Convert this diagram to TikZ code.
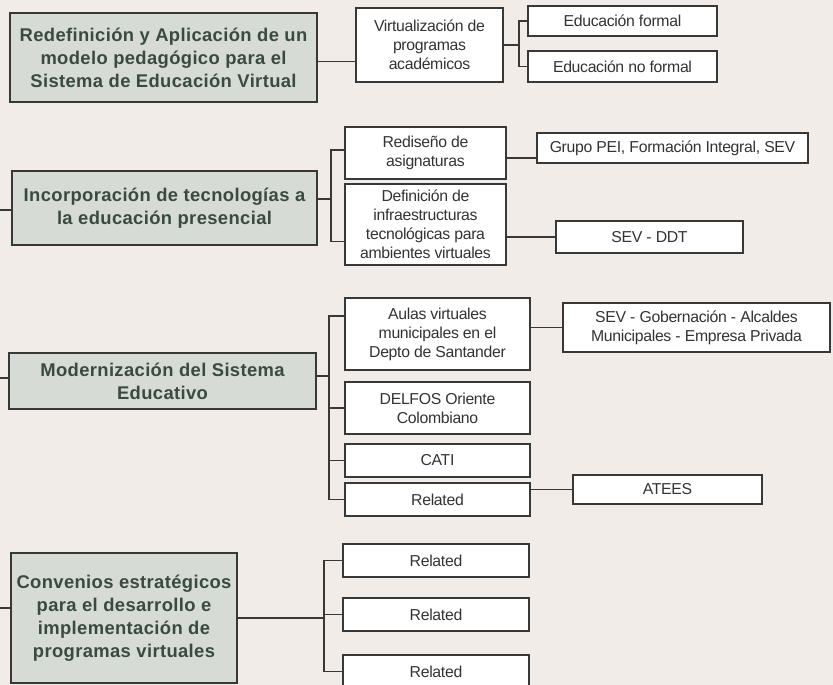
\documentclass[tikz,border=0pt]{standalone}
\usepackage{fontspec}
\setmainfont{Liberation Sans}
\usepackage{tikz}

\definecolor{paper}{HTML}{F1ECE8}
\definecolor{boxgray}{HTML}{D6DBD5}
\definecolor{heading}{HTML}{3B4A40}
\definecolor{rule}{HTML}{383838}

\begin{document}
\begin{tikzpicture}[x=1pt, y=-1pt,
  mainbox/.style={draw=rule, line width=2.3pt, fill=boxgray, text=heading,
    font=\bfseries\fontsize{18.4}{23}\selectfont\addfontfeature{LetterSpace=2},
    align=center, inner sep=0pt},
  subbox/.style={draw=rule, line width=1.9pt, fill=white, text=black!80,
    font=\fontsize{15.8}{19}\selectfont\addfontfeature{LetterSpace=-2},
    align=center, inner sep=0pt},
  link/.style={draw=rule, line width=1.9pt}]

% Paper
\fill[paper] (0,0) rectangle (833,685);
\useasboundingbox (0,0) rectangle (833,685);

% Branch 1
\node[mainbox, minimum width=307pt, minimum height=89pt] (redef) at (163.5,57.5)
  {Redefinición y Aplicación de un\\modelo pedagógico para el\\Sistema de Educación Virtual};
\node[subbox, minimum width=147pt, minimum height=74pt] (virt) at (429.5,45)
  {Virtualización de\\programas\\académicos};
\node[subbox, minimum width=189pt, minimum height=30pt] (formal) at (622.5,21) {Educación formal};
\node[subbox, minimum width=189pt, minimum height=31pt] (noformal) at (622.5,66.5) {Educación no formal};

\draw[link] ([yshift=-4pt]redef.east) -- ([yshift=-4pt]redef.east -| virt.west);
\draw[link] (virt.east) -- +(15,0) |- (formal.west);
\draw[link] (virt.east) -- +(15,0) |- (noformal.west);

% Branch 2
\node[mainbox, minimum width=305pt, minimum height=74pt] (incorp) at (164.5,208)
  {Incorporación de tecnologías a\\la educación presencial};
\node[subbox, minimum width=161pt, minimum height=52pt] (redis) at (425.5,153)
  {Rediseño de\\asignaturas};
\node[subbox, minimum width=161pt, minimum height=81pt] (defin) at (425.5,224.5)
  {Definición de\\infraestructuras\\tecnológicas para\\ambientes virtuales};
\node[subbox, minimum width=271pt, minimum height=30pt] (grupo) at (672.5,148)
  {Grupo PEI, Formación Integral, SEV};
\node[subbox, minimum width=187pt, minimum height=32pt] (sevddt) at (649.5,237) {SEV - DDT};

\coordinate (stubB) at (0,210);
\draw[link] (stubB) -- (stubB -| incorp.west);
\draw[link] ([yshift=9pt]incorp.east) -- +(13,0) |- ([yshift=3pt]redis.west);
\draw[link] ([yshift=9pt]incorp.east) -- +(13,0) |- ([yshift=-17pt]defin.west);
\draw[link] ([yshift=-5pt]redis.east) -- ([yshift=-5pt]redis.east -| grupo.west);
\draw[link] (sevddt.west -| defin.east) -- (sevddt.west);

% Branch 3
\node[mainbox, minimum width=307pt, minimum height=56pt] (modern) at (162.5,381)
  {Modernización del Sistema\\Educativo};
\node[subbox, minimum width=185pt, minimum height=72pt] (aulas) at (437.5,334)
  {Aulas virtuales\\municipales en el\\Depto de Santander};
\node[subbox, minimum width=185pt, minimum height=52pt] (delfos) at (437.5,408)
  {DELFOS Oriente\\Colombiano};
\node[subbox, minimum width=185pt, minimum height=33pt] (cati) at (437.5,460.5) {CATI};
\node[subbox, minimum width=185pt, minimum height=33pt] (relA) at (437.5,499.5) {Related};
\node[subbox, minimum width=267pt, minimum height=49pt] (sevgob) at (696.5,327.5)
  {SEV - Gobernación - Alcaldes\\Municipales - Empresa Privada};
\node[subbox, minimum width=189pt, minimum height=29pt] (atees) at (667.5,489.5) {ATEES};

\coordinate (stubC) at (0,378);
\draw[link] (stubC) -- (stubC -| modern.west);
\draw[link] ([yshift=5pt]modern.east) -- +(12,0) |- ([yshift=18pt]aulas.west);
\draw[link] ([yshift=5pt]modern.east) -- +(12,0) |- (delfos.west);
\draw[link] ([yshift=5pt]modern.east) -- +(12,0) |- (cati.west);
\draw[link] ([yshift=5pt]modern.east) -- +(12,0) |- (relA.west);
\draw[link] (sevgob.west -| aulas.east) -- (sevgob.west);
\draw[link] (atees.west -| relA.east) -- (atees.west);

% Branch 4
\node[mainbox, minimum width=226pt, minimum height=130pt] (conven) at (124,618)
  {Convenios estratégicos\\para el desarrollo e\\implementación de\\programas virtuales};
\node[subbox, minimum width=186pt, minimum height=33pt] (relB) at (436,560.5) {Related};
\node[subbox, minimum width=186pt, minimum height=33pt] (relC) at (436,614.5) {Related};
\node[subbox, minimum width=186pt, minimum height=33pt] (relD) at (436,671.5) {Related};

\coordinate (stubD) at (0,608);
\draw[link] (stubD) -- (stubD -| conven.west);
\draw[link] (conven.east) -- +(86,0) |- (relB.west);
\draw[link] (conven.east) -- +(86,0) |- (relC.west);
\draw[link] (conven.east) -- +(86,0) |- (relD.west);

\end{tikzpicture}
\end{document}
